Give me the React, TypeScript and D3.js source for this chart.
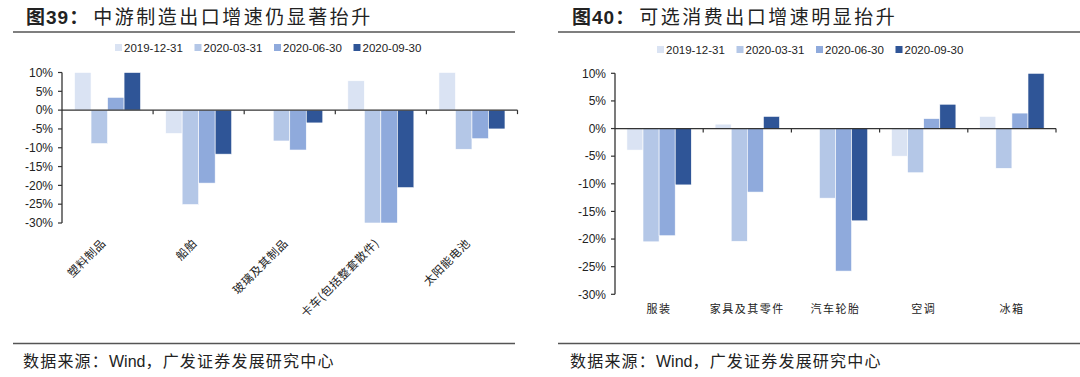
import React from 'react';
import * as d3 from 'd3';

const seriesNames = ['2019-12-31', '2020-03-31', '2020-06-30', '2020-09-30'];
const seriesColors = ['#dae3f3', '#b4c7e7', '#8faadc', '#2f5597'];

const leftCategories = ['塑料制品', '船舶', '玻璃及其制品', '卡车(包括整套散件)', '太阳能电池'];
const left2019Q4 = [10, -6.2, 0, 7.8, 10];
const left2020Q1 = [-8.9, -25.1, -8.2, -30, -10.4];
const left2020Q2 = [3.4, -19.4, -10.6, -30, -7.6];
const left2020Q3 = [10, -11.7, -3.4, -20.6, -5];

const rightCategories = ['服装', '家具及其零件', '汽车轮胎', '空调', '冰箱'];
const right2019Q4 = [-3.9, 0.8, 0, -5.0, 2.2];
const right2020Q1 = [-20.5, -20.4, -12.6, -8.0, -7.2];
const right2020Q2 = [-19.4, -11.5, -25.8, 1.8, 2.8];
const right2020Q3 = [-10.2, 2.2, -16.7, 4.4, 10];

const yTicks = [10, 5, 0, -5, -10, -15, -20, -25, -30];

const leftTitle = ['图39：', '中游制造出口增速仍显著抬升'];
const rightTitle = ['图40：', '可选消费出口增速明显抬升'];
const sourceText = ['数据来源：', 'Wind', '，广发证券发展研究中心'];

const CJK = '"Noto Sans CJK SC", sans-serif';
const LAT = 'Arial, "Liberation Sans", sans-serif';

type PanelProps = {
  title: string[];
  categories: string[];
  series: number[][];
  xRange: [number, number];
  yRange: [number, number];
  groupFrac: number;
  rotateLabels: boolean;
  legendX: number;
  legendY: number;
  lineX: [number, number];
  titleX: number;
  sourceX: number;
};

function Panel(p: PanelProps) {
  const x = d3.scaleBand<string>().domain(p.categories).range(p.xRange).paddingInner(0).paddingOuter(0);
  const bw = x.bandwidth();
  const outer = (1 - p.groupFrac) / 2;
  const nS = p.series.length;
  const outerPad = (outer * nS) / p.groupFrac;
  const xs = d3.scaleBand<number>().domain(d3.range(nS)).range([0, bw]).paddingInner(0).paddingOuter(outerPad);
  const y = d3.scaleLinear().domain([-30, 10]).range(p.yRange);
  const y0 = y(0);
  const axisColor = '#333';
  const boundaries = p.categories.map((c) => (x(c) as number) + bw);

  return (
    <g>
      {/* title */}
      <text x={p.titleX} y={24} fill="#222" style={{ fontFamily: CJK, fontSize: 19 }}>
        <tspan fontWeight="bold" style={{ fontFamily: `Arial, ${CJK}`, letterSpacing: '1px' }}>{p.title[0]}</tspan>
        <tspan dx={4} style={{ letterSpacing: '2.5px' }}>{p.title[1]}</tspan>
      </text>
      <line x1={p.lineX[0]} x2={p.lineX[1]} y1={32} y2={32} stroke="#555" strokeWidth={1.5} />
      {/* legend */}
      {seriesNames.map((s, i) => (
        <g key={s} transform={`translate(${p.legendX + i * 79.5},${p.legendY})`}>
          <rect x={0} y={-4} width={7} height={7} fill={seriesColors[i]} />
          <text x={9} y={0} dy="0.35em" fill="#222" style={{ fontFamily: LAT, fontSize: 11.5 }}>{s}</text>
        </g>
      ))}
      {/* bars */}
      {p.series.map((vals, si) =>
        vals.map((v, ci) => {
          const cx = (x(p.categories[ci]) as number) + (xs(si) as number);
          const yv = y(v);
          return (
            <rect
              key={`${si}-${ci}`}
              x={cx}
              y={Math.min(yv, y0)}
              width={xs.bandwidth()}
              height={Math.abs(yv - y0)}
              fill={seriesColors[si]}
              stroke="#fff"
              strokeWidth={0.6}
            />
          );
        })
      )}
      {/* y axis */}
      <line x1={p.xRange[0]} x2={p.xRange[0]} y1={y(10)} y2={y(-30)} stroke={axisColor} strokeWidth={1.3} />
      {yTicks.map((t) => (
        <g key={t}>
          <line x1={p.xRange[0] - 4} x2={p.xRange[0]} y1={y(t)} y2={y(t)} stroke={axisColor} strokeWidth={1.2} />
          <text x={p.xRange[0] - 9} y={y(t)} dy="0.35em" textAnchor="end" fill="#222" style={{ fontFamily: LAT, fontSize: 12 }}>
            {`${t}%`}
          </text>
        </g>
      ))}
      {/* x axis at 0 */}
      <line x1={p.xRange[0]} x2={p.xRange[1]} y1={y0} y2={y0} stroke={axisColor} strokeWidth={1.3} />
      {boundaries.map((b, i) => (
        <line key={i} x1={b} x2={b} y1={y0} y2={y0 + 4} stroke={axisColor} strokeWidth={1.2} />
      ))}
      {/* category labels */}
      {p.categories.map((c) => {
        const cx = (x(c) as number) + bw / 2;
        if (p.rotateLabels) {
          return (
            <text
              key={c}
              transform={`translate(${cx - 1},${y(-30) + 21}) rotate(-45)`}
              textAnchor="end"
              fill="#222"
              style={{ fontFamily: CJK, fontSize: 11.5, letterSpacing: '0.5px' }}
            >
              {c}
            </text>
          );
        }
        return (
          <text key={c} x={cx} y={y(-30) + 15} dy="0.35em" textAnchor="middle" fill="#222" style={{ fontFamily: CJK, fontSize: 11, letterSpacing: '1.5px' }}>
            {c}
          </text>
        );
      })}
      {/* source */}
      <line x1={p.lineX[0]} x2={p.lineX[1]} y1={343.5} y2={343.5} stroke="#555" strokeWidth={1.5} />
      <text x={p.sourceX} y={367} fill="#222" style={{ fontFamily: CJK, fontSize: 16, letterSpacing: '1.2px' }}>
        <tspan>{sourceText[0]}</tspan>
        <tspan style={{ fontFamily: LAT, letterSpacing: '0px' }}>{sourceText[1]}</tspan>
        <tspan>{sourceText[2]}</tspan>
      </text>
    </g>
  );
}

export default function App() {
  return (
    <div style={{ position: 'absolute', left: 0, top: 0 }}>
      <svg width={1080} height={377} style={{ display: 'block', background: '#fff' }}>
        <Panel
          title={leftTitle}
          categories={leftCategories}
          series={[left2019Q4, left2020Q1, left2020Q2, left2020Q3]}
          xRange={[62, 517.5]}
          yRange={[223, 72.5]}
          groupFrac={0.725}
          rotateLabels={true}
          legendX={115}
          legendY={48}
          lineX={[13, 515]}
          titleX={26}
          sourceX={23}
        />
        <Panel
          title={rightTitle}
          categories={rightCategories}
          series={[right2019Q4, right2020Q1, right2020Q2, right2020Q3]}
          xRange={[615, 1056]}
          yRange={[294.3, 73.3]}
          groupFrac={0.73}
          rotateLabels={false}
          legendX={657}
          legendY={50}
          lineX={[558, 1080]}
          titleX={572}
          sourceX={570}
        />
      </svg>
    </div>
  );
}
